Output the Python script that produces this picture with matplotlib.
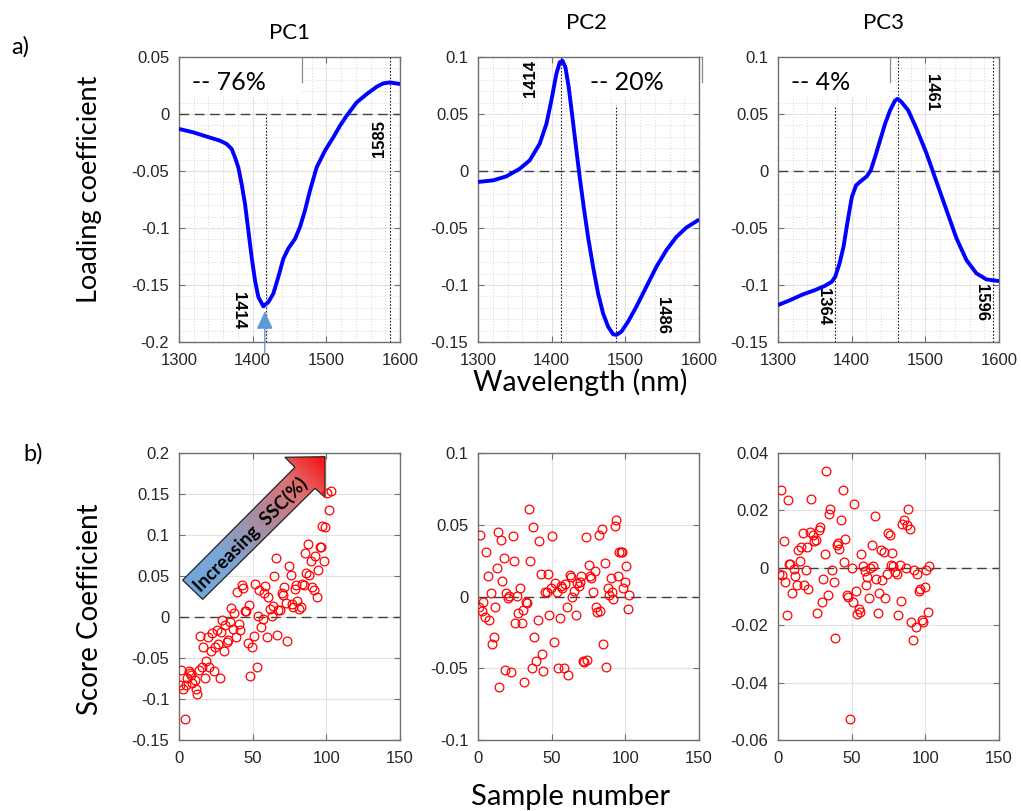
import matplotlib
matplotlib.use('Agg')
import matplotlib.pyplot as plt
import numpy as np
from matplotlib.patches import Polygon, Rectangle
from matplotlib.colors import LinearSegmentedColormap
from matplotlib.ticker import MultipleLocator, FormatStrFormatter

plt.rcParams['axes.unicode_minus'] = False
plt.rcParams['font.family'] = ['Liberation Sans', 'DejaVu Sans']

# ---- loadings (top row) ----
pc1_wl = [1300, 1319.5, 1337.6, 1355.7, 1364.7, 1371.5, 1376, 1380.5, 1385, 1389.6, 1394.1, 1398.6,
          1403.2, 1407.7, 1414.5, 1421.3, 1428, 1434.8, 1441.6, 1448.4, 1457.5, 1464.3, 1471, 1477.8,
          1486.9, 1498.2, 1509.5, 1518.6, 1527.6, 1541.2, 1554.8, 1568.3, 1577.4, 1586.4, 1600]
pc1_val = [-0.0131, -0.0161, -0.0198, -0.0234, -0.0263, -0.0306, -0.038, -0.0467, -0.0613, -0.0788,
           -0.102, -0.1255, -0.146, -0.1605, -0.1687, -0.165, -0.1576, -0.143, -0.127, -0.118, -0.1095,
           -0.099, -0.0846, -0.0671, -0.0467, -0.0321, -0.0204, -0.0102, -0.0015, 0.0102, 0.0175,
           0.0239, 0.0269, 0.0277, 0.0263]

pc2_wl = [1300, 1320.4, 1338.5, 1356.6, 1370.1, 1383.7, 1392.8, 1399.5, 1406.3, 1410.9, 1414.5,
          1418.6, 1423.1, 1428.1, 1433.5, 1438, 1443.4, 1449.3, 1456.1, 1462.9, 1469.7, 1476.5,
          1483.3, 1487.8, 1494.6, 1503.6, 1514.9, 1528.5, 1542.1, 1555.7, 1569.2, 1582.8, 1600]
pc2_val = [-0.0096, -0.0082, -0.0047, 0.002, 0.0093, 0.0239, 0.0414, 0.0618, 0.0852, 0.0954, 0.0968,
           0.091, 0.0735, 0.0473, 0.0181, -0.0053, -0.0315, -0.0578, -0.084, -0.1073, -0.1249, -0.1365,
           -0.1432, -0.1438, -0.1409, -0.1322, -0.119, -0.1015, -0.084, -0.0694, -0.0578, -0.0496, -0.0426]

pc3_wl = [1300, 1316.7, 1334.7, 1350.5, 1364.1, 1373.1, 1377.6, 1383.5, 1388.9, 1394.7, 1400.2,
          1406, 1413.7, 1420.5, 1425.9, 1431.7, 1438.5, 1445.3, 1452, 1458.8, 1462.4, 1467.8, 1476.8,
          1488.1, 1501.7, 1515.2, 1528.7, 1542.3, 1555.8, 1569.3, 1582.9, 1600]
pc3_val = [-0.1176, -0.1132, -0.108, -0.1044, -0.1006, -0.0971, -0.0928, -0.0811, -0.0665, -0.0432,
           -0.0228, -0.0125, -0.0082, -0.0047, 0.0006, 0.0123, 0.0268, 0.0414, 0.0531, 0.0618, 0.0633,
           0.0604, 0.0531, 0.037, 0.0152, -0.0096, -0.0344, -0.0592, -0.0782, -0.0898, -0.0951, -0.0966]

variance = ['-- 76%', '-- 20%', '-- 4%']
titles = ['PC1', 'PC2', 'PC3']

# ---- scores (bottom row) ----
s1_x = [0.7, 1.6, 2.7, 3.9, 5.0, 5.7, 6.6, 7.7, 8.4, 9.1, 10.7, 11.3, 12.5, 13.6, 14.5, 15.6, 16.5, 17.9,
        18.6, 19.5, 20.4, 21.5, 22.7, 23.6, 24.5, 25.6, 26.5, 27.6, 28.6, 29.5, 30.6, 31.5, 32.4, 33.5,
        34.7, 35.6, 36.7, 37.6, 38.5, 39.4, 40.6, 41.7, 42.6, 43.7, 44.6, 45.8, 46.7, 47.6, 48.5, 49.6,
        50.8, 51.7, 52.8, 53.7, 54.6, 55.7, 56.7, 57.8, 58.7, 59.6, 60.7, 61.6, 62.8, 63.7, 64.6, 65.7,
        66.6, 67.5, 68.7, 69.6, 70.7, 71.6, 72.5, 73.6, 74.6, 75.7, 76.6, 77.5, 78.4, 79.5, 80.4, 81.6,
        82.5, 83.4, 84.5, 85.4, 86.3, 87.5, 88.4, 89.5, 90.4, 91.3, 92.5, 93.4, 94.5, 95.4, 96.3, 97.2,
        98.3, 99.3, 100.6, 101.5, 102.9]
s1_y = [-0.0826, -0.0643, -0.088, -0.1245, -0.0826, -0.0745, -0.0663, -0.0684, -0.0704, -0.0806,
        -0.0765, -0.088, -0.0936, -0.0643, -0.0228, -0.061, -0.0366, -0.0749, -0.0533, -0.0244, -0.061,
        -0.0419, -0.0195, -0.0663, -0.0366, -0.0163, -0.0326, -0.0749, -0.0183, -0.0033, -0.0419,
        -0.0098, -0.0301, -0.0277, -0.0065, 0.0106, -0.0147, 0.0049, -0.0244, 0.0301, -0.0081, -0.0163,
        0.039, 0.0354, 0.0069, 0.0077, -0.0317, 0.0147, -0.0716, -0.0366, -0.0228, 0.0403, -0.0615,
        0.0008, 0.0326, -0.0122, -0.002, 0.0293, 0.0374, -0.0244, 0.024, 0.0098, 0.0008, 0.0138, 0.0505,
        0.0716, -0.0216, 0.0081, 0.0081, 0.0293, 0.0265, 0.0362, 0.0171, -0.0289, 0.0619, 0.0513, 0.0159,
        0.0126, 0.0342, 0.039, 0.0199, 0.0098, 0.0122, 0.0399, 0.0395, 0.0777, 0.0537, 0.0895, 0.0509,
        0.0684, 0.0362, 0.0334, 0.0741, 0.024, 0.057, 0.0859, 0.0859, 0.1115, 0.068, 0.1099, 0.151,
        0.131, 0.1534]

s2_x = [0.5, 1.6, 2.5, 3.6, 4.5, 5.7, 6.6, 7.7, 8.6, 9.5, 10.7, 11.6, 12.7, 13.6, 14.5, 15.4, 16.5, 17.4,
        18.4, 19.3, 20.4, 21.3, 22.4, 23.6, 24.7, 25.4, 26.5, 27.4, 28.6, 29.5, 30.6, 31.5, 32.4, 33.5,
        34.4, 35.4, 36.5, 37.4, 38.3, 39.4, 40.6, 41.5, 42.4, 43.5, 44.4, 45.3, 46.5, 47.4, 48.3, 49.4,
        50.3, 51.4, 52.3, 53.3, 54.2, 55.3, 56.2, 57.1, 58.2, 59.1, 60.3, 61.2, 62.1, 63.2, 64.1, 65.3,
        66.2, 67.1, 68.2, 69.1, 70.0, 71.2, 72.1, 73.0, 74.1, 75.0, 76.1, 76.9, 78.0, 79.1, 79.9, 80.9,
        82.0, 82.9, 84.1, 85.0, 86.1, 87.0, 87.9, 88.8, 90.0, 90.9, 91.8, 92.9, 93.8, 94.9, 95.9, 96.8,
        97.7, 98.6, 99.7, 100.6, 101.5, 102.4]
s2_y = [-0.0074, 0.043, -0.0098, -0.0035, -0.014, 0.0309, 0.014, -0.0163, 0.0023, -0.033, -0.0284,
        -0.007, 0.02, 0.0449, -0.0633, 0.0395, 0.0105, 0.0267, -0.0512, 0.0028, -0.0012, 0.0007, -0.0528,
        0.0423, 0.0251, -0.0186, 0.0002, -0.0116, 0.006, -0.0186, -0.0093, -0.0598, -0.004, -0.0047,
        0.0612, 0.0251, -0.0498, 0.0484, -0.0284, -0.0447, -0.0163, 0.0386, 0.0154, -0.04, -0.0521,
        0.003, 0.003, 0.0158, -0.0126, 0.006, 0.0423, -0.0314, 0.0093, 0.003, -0.0498, -0.0153, 0.0072,
        0.0056, -0.0498, 0.0088, -0.0074, -0.0547, 0.0147, 0.0135, 0.0, 0.0037, -0.0128, 0.0093, 0.0074,
        0.0102, 0.0144, -0.0447, -0.0454, 0.0416, -0.0442, 0.0223, 0.0144, 0.013, 0.003, 0.0177, -0.0074,
        -0.0107, 0.0426, -0.0102, 0.047, -0.033, 0.0233, -0.0493, 0.006, 0.0014, 0.0128, 0.003, -0.0016,
        0.0491, 0.0535, 0.0142, 0.0309, 0.0309, 0.0309, 0.006, 0.0102, 0.0212, -0.0088, 0.0012]

s3_x = [0.7, 1.8, 2.7, 3.8, 4.7, 5.9, 6.8, 7.4, 8.3, 9.5, 10.6, 11.5, 12.6, 13.5, 14.7, 15.6, 16.7, 17.6,
        18.7, 19.6, 20.5, 21.7, 22.6, 23.5, 24.6, 25.5, 26.6, 27.5, 28.6, 29.6, 30.7, 31.6, 32.7, 33.6,
        34.7, 35.6, 36.8, 37.7, 38.6, 39.7, 40.6, 41.7, 42.6, 43.8, 44.7, 45.8, 46.7, 47.8, 49.0, 49.9,
        50.8, 51.7, 52.8, 53.7, 54.8, 55.7, 56.6, 57.7, 58.7, 59.8, 60.7, 61.8, 62.7, 63.8, 64.7, 65.6,
        66.8, 67.9, 68.8, 69.7, 70.8, 71.7, 72.9, 73.8, 74.7, 75.8, 76.5, 77.6, 78.3, 79.4, 80.5, 81.4,
        82.6, 83.5, 84.1, 85.5, 86.6, 87.3, 88.4, 89.6, 90.5, 91.6, 92.5, 93.6, 94.5, 95.4, 96.5, 97.7,
        98.6, 99.7, 100.6, 101.7, 102.6]
s3_y = [-0.0021, 0.027, -0.0026, 0.0093, -0.0048, -0.0163, 0.0238, 0.0014, 0.0014, -0.0088, -0.0005,
        -0.003, -0.0059, 0.0063, 0.0023, 0.0074, 0.0123, -0.0059, -0.0009, 0.0074, -0.0074, 0.0126,
        0.0241, 0.0114, 0.0095, 0.0098, -0.0156, 0.0133, 0.0142, -0.0119, -0.004, 0.0047, 0.0336, -0.0093,
        0.0187, 0.0206, -0.0007, -0.0048, -0.0244, 0.0081, 0.0086, 0.0065, 0.0166, 0.027, 0.0022, 0.0102,
        -0.0093, -0.01, -0.0528, -0.0002, -0.0119, 0.0223, -0.0079, -0.0162, -0.0142, -0.0154, 0.0048,
        0.0005, -0.001, -0.0059, -0.0033, -0.0106, -0.0001, 0.0081, 0.0007, 0.0179, -0.004, -0.0156,
        -0.0086, 0.0063, -0.0042, 0.0056, -0.0105, -0.0021, 0.0121, 0.0116, 0.0009, 0.0052, 0.0008,
        -0.0016, -0.0021, -0.0165, 0.001, -0.0114, 0.0153, 0.0165, -0.0001, 0.0149, 0.0206, 0.0136,
        -0.0188, -0.0251, -0.0009, -0.0206, -0.0021, -0.0081, -0.0074, -0.0181, -0.0187, -0.0067, -0.0007,
        -0.0154, 0.0005]

BLUE = '#0000ff'
GRID = '#e2e2e2'
SPINE = '#707070'
TICKC = '#262626'
CAL = ['Lato', 'DejaVu Sans']
NARROW = ['Liberation Sans Narrow', 'Liberation Sans', 'DejaVu Sans']

fig = plt.figure(figsize=(10.21, 8.11), dpi=100)
lefts = [0.1753, 0.4682, 0.762]
w = 0.2165


def style(ax, minor):
    for s in ax.spines.values():
        s.set_color(SPINE)
        s.set_linewidth(1.0)
    ax.tick_params(which='both', direction='in', top=True, right=True,
                   labelsize=12, colors=SPINE, labelcolor=TICKC, length=4, width=0.8)
    ax.tick_params(axis='x', pad=8)
    ax.tick_params(axis='y', pad=7)
    ax.tick_params(which='minor', length=0)
    ax.grid(True, which='major', color=GRID, lw=0.8, zorder=0)
    if minor:
        ax.grid(True, which='minor', color='#c8c8c8', lw=0.6, ls=(0, (1, 2.5)), zorder=0)
    ax.set_axisbelow(True)
    ax.yaxis.set_major_formatter(FormatStrFormatter('%g'))
    ax.xaxis.set_major_formatter(FormatStrFormatter('%g'))


# ---------------- top row ----------------
top_data = [(pc1_wl, pc1_val), (pc2_wl, pc2_val), (pc3_wl, pc3_val)]
top_ylim = [(-0.2, 0.05), (-0.15, 0.1), (-0.15, 0.1)]
# (position, lower end, upper end) of each dotted peak marker
peak_lines = [[(1417.5, -0.2, 0.0), (1586.4, -0.2, 0.05)],
              [(1412.0, -0.15, 0.1), (1487.0, -0.15, 0.058)],
              [(1377.6, -0.15, 0.057), (1462.4, -0.15, 0.1), (1592.0, -0.15, 0.1)]]
# (text, x, y, rotation)
peak_labels = [[('1414', 1381.4, -0.1728, -90), ('1585', 1572.4, -0.0219, 90)],
               [('1414', 1370.6, 0.0808, 90), ('1486', 1550.2, -0.1269, -90)],
               [('1461', 1508.5, 0.0691, -90), ('1364', 1361.8, -0.119, -90),
                ('1596', 1576.1, -0.1152, -90)]]
legend_boxes = [(0.0, 0.555), (0.457, 1.011), (0.0, 0.507)]
legend_text_x = [0.058, 0.505, 0.059]
title_y = [0.959, 0.9716, 0.9716]
title_x = [0.284, 0.5747, 0.865]

top_axes = []
for i in range(3):
    ax = fig.add_axes([lefts[i], 0.5783, w, 0.3514])
    top_axes.append(ax)
    style(ax, True)
    ax.set_xlim(1300, 1600)
    ax.set_ylim(*top_ylim[i])
    ax.xaxis.set_major_locator(MultipleLocator(100))
    ax.xaxis.set_minor_locator(MultipleLocator(20))
    ax.yaxis.set_major_locator(MultipleLocator(0.05))
    ax.yaxis.set_minor_locator(MultipleLocator(0.01))
    ax.axhline(0, color='#404040', lw=1.0, ls=(0, (7, 4)), zorder=2)
    for (xp, y0, y1) in peak_lines[i]:
        ax.plot([xp, xp], [y0, y1], color='#222222', lw=0.8, ls=(0, (1.5, 1.5)), zorder=2)
    wl, val = top_data[i]
    ax.plot(wl, val, color=BLUE, lw=2.8, zorder=4, solid_capstyle='butt')
    for (t, xx, yy, r) in peak_labels[i]:
        ax.text(xx, yy, t, rotation=r, ha='center', va='center', fontsize=12,
                fontweight='bold', family=NARROW, zorder=5)
    # legend box: white patch, outlined only at its side
    x0, x1 = legend_boxes[i]
    ax.add_patch(Rectangle((x0, 0.86), x1 - x0, 0.14, transform=ax.transAxes,
                           facecolor='white', edgecolor='none', zorder=1.5, clip_on=False))
    ax.plot([x1, x1], [0.912, 1.0], transform=ax.transAxes, color='#8a8a8a', lw=0.9,
            zorder=1.6, clip_on=False)
    if x1 > 1.0:
        ax.plot([1.0, x1], [1.0, 1.0], transform=ax.transAxes, color='#8a8a8a', lw=0.9,
                zorder=1.6, clip_on=False)
    ax.text(legend_text_x[i], 0.912, variance[i], transform=ax.transAxes, ha='left', va='center',
            fontsize=18, family=CAL, zorder=6)
    fig.text(title_x[i], title_y[i], titles[i], ha='center', va='center', fontsize=16, family=CAL)

# blue arrow pointing at the PC1 minimum
top_axes[0].annotate('', xy=(1416.5, -0.1705), xytext=(1416.5, -0.214),
                     arrowprops=dict(arrowstyle='-|>,head_length=0.55,head_width=0.25',
                                     color='#5b9bd5', lw=1.0, mutation_scale=20),
                     annotation_clip=False, zorder=6)

# ---------------- bottom row ----------------
bot_data = [(s1_x, s1_y), (s2_x, s2_y), (s3_x, s3_y)]
bot_ylim = [(-0.15, 0.2), (-0.1, 0.1), (-0.06, 0.04)]
bot_step = [0.05, 0.05, 0.02]
bot_axes = []
for i in range(3):
    ax = fig.add_axes([lefts[i], 0.0875, w, 0.3539])
    bot_axes.append(ax)
    style(ax, False)
    ax.set_xlim(0, 150)
    ax.set_ylim(*bot_ylim[i])
    ax.xaxis.set_major_locator(MultipleLocator(50))
    ax.yaxis.set_major_locator(MultipleLocator(bot_step[i]))
    ax.axhline(0, color='#404040', lw=1.0, ls=(0, (7, 4)), zorder=2)
    sx, sy = bot_data[i]
    ax.plot(sx, sy, 'o', mfc='none', mec='red', ms=6.3, mew=0.9, zorder=5)

# gradient block arrow "Increasing SSC(%)"
ax = bot_axes[0]
arrow_pts = [(2.5, 0.045), (78.7, 0.1826), (71.9, 0.1948), (99.1, 0.1955),
             (99.1, 0.146), (92.3, 0.157), (16.1, 0.0216)]
poly = Polygon(arrow_pts, closed=True, facecolor='none', edgecolor='#222222', lw=0.9, zorder=4)
ax.add_patch(poly)
gx = np.linspace(0, 102, 200)
gy = np.linspace(0.015, 0.2, 200)
GX, GY = np.meshgrid(gx, gy)
t = GX / 150 * 221 + (GY + 0.15) / 0.35 * 287
t = (t - t.min()) / (t.max() - t.min())
cmap = LinearSegmentedColormap.from_list('ssc', [(0, '#6fa8dc'), (0.3, '#7aa6d6'), (0.55, '#a98ca0'),
                                                 (0.78, '#e07070'), (1.0, '#ff0000')])
im = ax.imshow(t, extent=(0, 102, 0.015, 0.2), origin='lower', cmap=cmap, aspect='auto', zorder=3)
im.set_clip_path(poly)
ax.set_xlim(0, 150)
ax.set_ylim(-0.15, 0.2)
ax.text(48.5, 0.1010, 'Increasing  SSC(%)', rotation=45, rotation_mode='anchor', ha='center',
        va='center', fontsize=13.5, fontweight='bold', family=CAL, zorder=6)

# ---------------- labels ----------------
fig.text(0.088, 0.767, 'Loading coefficient', rotation=90, ha='center', va='center', fontsize=19.5, family=CAL)
fig.text(0.568, 0.529, 'Wavelength (nm)', ha='center', va='center', fontsize=20.5, family=CAL)
fig.text(0.088, 0.249, 'Score Coefficient', rotation=90, ha='center', va='center', fontsize=20, family=CAL)
fig.text(0.559, 0.0173, 'Sample number', ha='center', va='center', fontsize=21, family=CAL)
fig.text(0.0196, 0.942, 'a)', ha='center', va='center', fontsize=17, family=CAL)
fig.text(0.032, 0.44, 'b)', ha='center', va='center', fontsize=17, family=CAL)

fig.savefig('out.png', dpi=100)
